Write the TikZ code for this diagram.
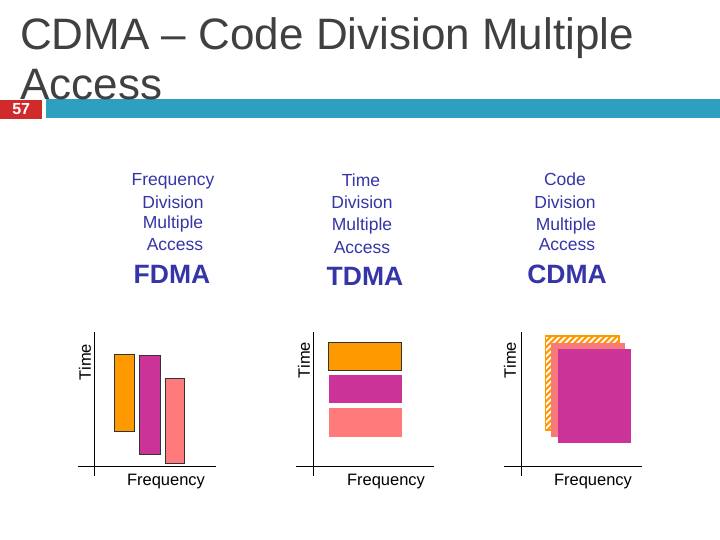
\documentclass[tikz,border=0pt]{standalone}
\usepackage{fontspec}
\setmainfont{Liberation Sans}
\definecolor{titlegray}{HTML}{404040}
\definecolor{barteal}{HTML}{2E9FBF}
\definecolor{boxred}{HTML}{D02A2A}
\definecolor{lblue}{HTML}{3535A8}
\definecolor{corange}{HTML}{FF9900}
\definecolor{cmagenta}{HTML}{CC3399}
\definecolor{cpink}{HTML}{FF7A7A}
\definecolor{csalmon}{HTML}{F77A7A}
\begin{document}
\begin{tikzpicture}[x=1pt,y=-1pt,
  lbl/.style={text=lblue,font=\fontsize{17.5}{20}\selectfont,anchor=base,inner sep=0pt},
  acr/.style={text=lblue,font=\fontsize{26.5}{30}\selectfont\bfseries,anchor=base,inner sep=0pt},
  axis/.style={draw=black,line width=1pt},
  axlbl/.style={font=\fontsize{16.5}{19}\selectfont,inner sep=0pt},
  band/.style={draw=black!80,line width=0.8pt}]
\useasboundingbox[fill=white] (0,0) rectangle (720,540);
% title bar
\fill[barteal] (46,99) rectangle (720,118);
\node[anchor=base west,inner sep=0pt,text=titlegray,font=\fontsize{44}{50}\selectfont] (t1) at (20,50) {CDMA – Code Division Multiple};
\node[anchor=base west,inner sep=0pt,text=titlegray,font=\fontsize{44}{50}\selectfont] (t2) at (20,100) {Access};
\node[fill=boxred,minimum width=42pt,minimum height=19pt,inner sep=0pt,anchor=north west,
  text=white,font=\fontsize{16}{18}\selectfont\bfseries] (num) at (0,99.5) {57};
% labels
\node[lbl] (fa) at (173,186) {Frequency};
\node[lbl] (fb) at (173,208) {Division};
\node[lbl] (fc) at (173,229) {Multiple};
\node[lbl] (fd) at (175,251) {Access};
\node[acr] (fe) at (172,283) {FDMA};
\node[lbl] (ta) at (361,187) {Time};
\node[lbl] (tb) at (362,208) {Division};
\node[lbl] (tc) at (362,230) {Multiple};
\node[lbl] (td) at (362,254) {Access};
\node[acr] (te) at (365,285) {TDMA};
\node[lbl] (ca) at (565,186) {Code};
\node[lbl] (cb) at (565,208) {Division};
\node[lbl] (cc) at (566,230) {Multiple};
\node[lbl] (cd) at (567,251) {Access};
\node[acr] (ce) at (567,283) {CDMA};
% FDMA chart
\draw[axis] (94,332) -- (94,476);
\draw[axis] (78,466) -- (216,466);
\node[axlbl,rotate=90] (fy) at (85,362) {Time};
\node[axlbl,anchor=base] (fx) at (166,485) {Frequency};
\filldraw[band,fill=corange] (114.3,354.3) rectangle (134.3,431.7);
\filldraw[band,fill=cmagenta] (139.7,355.7) rectangle (160,454.7);
\filldraw[band,fill=cpink] (165.7,378.7) rectangle (184,463.3);
% TDMA chart
\draw[axis] (313.3,332) -- (313.3,476);
\draw[axis] (296,466) -- (434,466);
\node[axlbl,rotate=90] (ty) at (304,360) {Time};
\node[axlbl,anchor=base] (tx) at (386,485) {Frequency};
\filldraw[band,fill=corange] (328.7,342.7) rectangle (401.7,370.3);
\fill[cmagenta] (328.7,375) rectangle (401.7,403.3);
\fill[cpink] (328.7,408.3) rectangle (401.7,436.7);
% CDMA chart
\draw[axis] (521,332) -- (521,476);
\draw[axis] (504,466) -- (641.7,466);
\node[axlbl,rotate=90] (cy) at (510,360) {Time};
\node[axlbl,anchor=base] (cx) at (593,485) {Frequency};
\begin{scope}
  \clip (545.3,336) rectangle (619,430);
  \fill[white] (545.3,336) rectangle (619,430);
  \foreach \k in {0,6,...,180} {
    \draw[corange,line width=2.2pt] (545.3+\k-100,430) -- ++(100,-100);
  }
\end{scope}
\draw[corange,line width=1.2pt] (545.3,336) rectangle (619,430);
\fill[csalmon] (551.3,343.3) rectangle (625,436.7);
\fill[cmagenta] (557.7,349.3) rectangle (631,442.7);
\end{tikzpicture}
\end{document}
